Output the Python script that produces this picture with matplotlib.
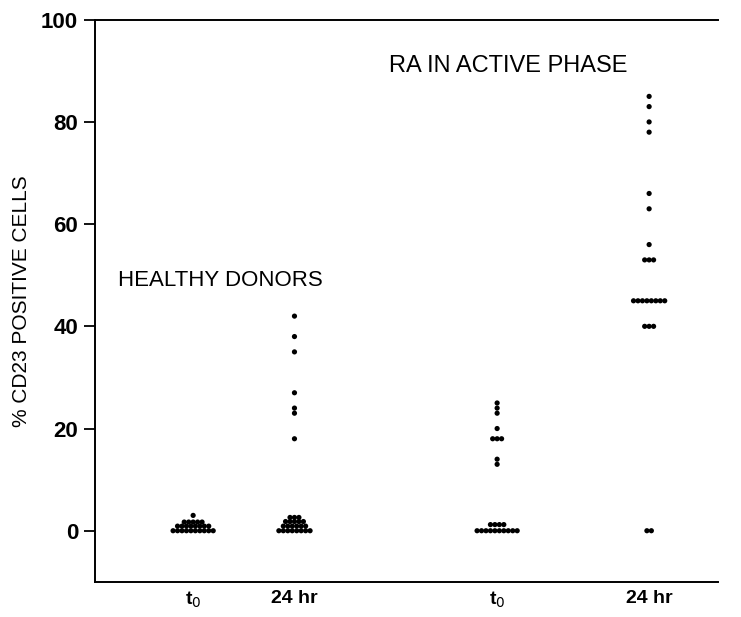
import matplotlib
matplotlib.use("Agg")
import matplotlib.pyplot as plt
from matplotlib import font_manager
import numpy as np

# values (% CD23 positive cells)
group_labels = [r"t$_0$", "24 hr", r"t$_0$", "24 hr"]
group_pos = [1.0, 2.0, 4.0, 5.5]

healthy_t0 = [3.0,
              1.7, 1.7, 1.7, 1.7, 1.7,
              0.9, 0.9, 0.9, 0.9, 0.9, 0.9, 0.9, 0.9,
              0, 0, 0, 0, 0, 0, 0, 0, 0, 0]
healthy_24h = [42, 38, 35, 27, 24, 23, 18,
               2.6, 2.6, 2.6,
               1.8, 1.8, 1.8, 1.8, 1.8,
               0.9, 0.9, 0.9, 0.9, 0.9, 0.9,
               0, 0, 0, 0, 0, 0, 0, 0]
ra_t0 = [25, 24, 23, 20, 18, 18, 18, 14, 13,
         1.2, 1.2, 1.2, 1.2,
         0, 0, 0, 0, 0, 0, 0, 0, 0, 0]
ra_24h = [85, 83, 80, 78, 66, 63, 56,
          53, 53, 53,
          45, 45, 45, 45, 45, 45, 45, 45,
          40, 40, 40,
          0, 0]

groups = [healthy_t0, healthy_24h, ra_t0, ra_24h]

DOT_STEP = 0.044  # horizontal spacing between tied values


def spread(values, center):
    """Put tied values side by side, centred on the group position."""
    xs, ys = [], []
    vals, counts = np.unique(values, return_counts=True)
    for v, n in zip(vals, counts):
        offs = (np.arange(n) - (n - 1) / 2) * DOT_STEP
        xs.extend(center + offs)
        ys.extend([v] * n)
    return np.array(xs), np.array(ys)


plt.rcParams["font.family"] = ["Liberation Sans", "DejaVu Sans"]

# narrow face for the y label if there is one
installed = {f.name for f in font_manager.fontManager.ttflist}
if "Liberation Sans Narrow" in installed:
    ylab_font, ylab_size = "Liberation Sans Narrow", 16.5
else:
    ylab_font, ylab_size = "Liberation Sans", 15

fig = plt.figure(figsize=(7.41, 6.17), dpi=100)
ax = fig.add_axes([0.128, 0.057, 0.841, 0.911])

for vals, pos in zip(groups, group_pos):
    x, y = spread(vals, pos)
    ax.scatter(x, y, s=14, color="black", edgecolors="none", zorder=3)

ax.set_xlim(0.03, 6.18)
ax.set_ylim(-10, 100)
ax.set_yticks([0, 20, 40, 60, 80, 100])
ax.tick_params(axis="y", direction="out", length=8, width=1.3, pad=4,
               labelsize=16)
for lab in ax.get_yticklabels():
    lab.set_fontweight("bold")

ax.set_xticks(group_pos)
ax.set_xticklabels(group_labels, fontsize=14, fontweight="bold")
ax.tick_params(axis="x", length=0, pad=6)

for sp in ax.spines.values():
    sp.set_linewidth(1.4)
ax.spines["right"].set_visible(False)

ax.set_ylabel("% CD23 POSITIVE CELLS", fontsize=ylab_size,
              family=[ylab_font, "DejaVu Sans"], labelpad=7)

ax.text(0.26, 49, "HEALTHY DONORS", fontsize=16, va="center", ha="left")
ax.text(2.93, 91, "RA IN ACTIVE PHASE", fontsize=17, va="center", ha="left")

fig.savefig("out.png", dpi=100)
plt.close(fig)
